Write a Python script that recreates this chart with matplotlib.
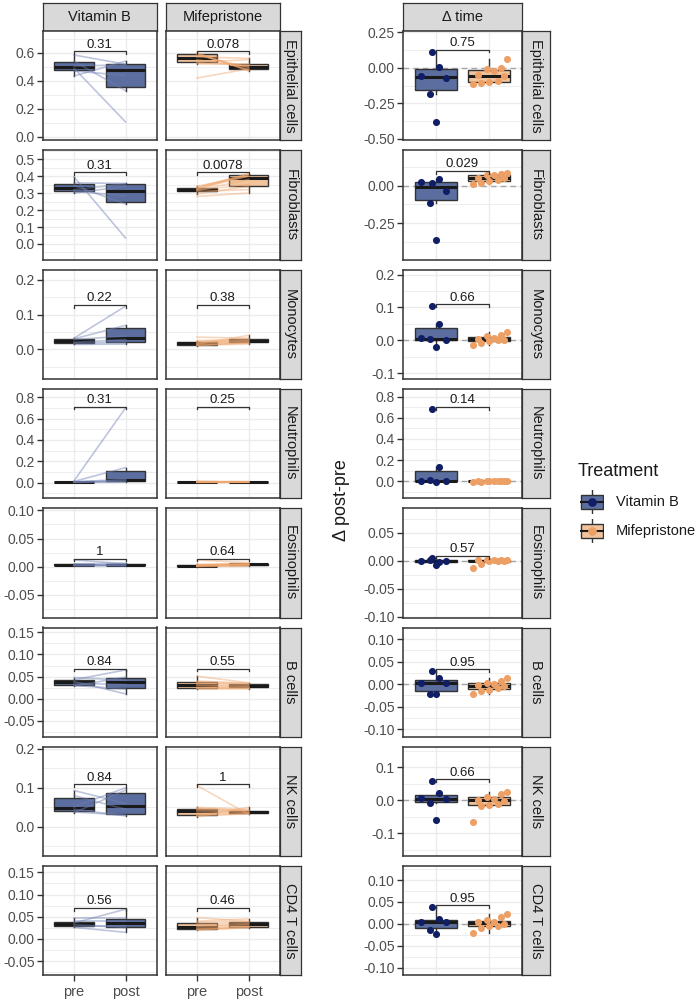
import matplotlib
matplotlib.use("Agg")
import matplotlib.pyplot as plt
import numpy as np
from matplotlib.patches import Rectangle
from matplotlib.ticker import FixedLocator

plt.rcParams['font.family'] = ['Liberation Sans', 'DejaVu Sans']

# ---------------- data ----------------
CELL_TYPES = ["Epithelial cells", "Fibroblasts", "Monocytes", "Neutrophils",
              "Eosinophils", "B cells", "NK cells", "CD4 T cells"]
TREATMENTS = ["Vitamin B", "Mifepristone"]
TIMES = ["pre", "post"]

VITB_PRE = [
    [0.434, 0.47, 0.49, 0.505, 0.54, 0.584],
    [0.30, 0.31, 0.32, 0.345, 0.36, 0.396],
    [0.014, 0.018, 0.02, 0.028, 0.03, 0.032],
    [0.002, 0.004, 0.005, 0.007, 0.01, 0.015],
    [0.001, 0.002, 0.003, 0.004, 0.005, 0.012],
    [0.029, 0.030, 0.035, 0.039, 0.043, 0.048],
    [0.036, 0.038, 0.045, 0.051, 0.08, 0.093],
    [0.026, 0.028, 0.032, 0.036, 0.040, 0.048],
]
VITB_POST = [
    [0.54, 0.438, 0.107, 0.514, 0.33, 0.518],
    [0.34, 0.284, 0.355, 0.236, 0.357, 0.035],
    [0.015, 0.02, 0.028, 0.038, 0.069, 0.124],
    [0.005, 0.01, 0.02, 0.03, 0.14, 0.70],
    [0.003, 0.001, 0.004, 0.002, 0.006, 0.005],
    [0.049, 0.022, 0.032, 0.011, 0.065, 0.042],
    [0.094, 0.03, 0.028, 0.10, 0.045, 0.06],
    [0.015, 0.03, 0.026, 0.067, 0.04, 0.048],
]
MIFE_PRE = [
    [0.42, 0.52, 0.53, 0.535, 0.55, 0.57, 0.585, 0.59, 0.595, 0.60],
    [0.28, 0.295, 0.31, 0.315, 0.318, 0.322, 0.325, 0.33, 0.335, 0.34],
    [0.01, 0.012, 0.013, 0.015, 0.016, 0.018, 0.02, 0.022, 0.025, 0.035],
    [0.001, 0.002, 0.003, 0.004, 0.005, 0.005, 0.006, 0.007, 0.008, 0.012],
    [0.0, 0.0005, 0.001, 0.0015, 0.002, 0.002, 0.0025, 0.003, 0.004, 0.012],
    [0.022, 0.024, 0.025, 0.026, 0.030, 0.032, 0.036, 0.038, 0.04, 0.051],
    [0.026, 0.028, 0.03, 0.035, 0.04, 0.043, 0.046, 0.047, 0.05, 0.106],
    [0.02, 0.021, 0.022, 0.024, 0.027, 0.029, 0.034, 0.038, 0.04, 0.048],
]
MIFE_POST = [
    [0.485, 0.52, 0.51, 0.55, 0.50, 0.56, 0.495, 0.48, 0.475, 0.47],
    [0.30, 0.34, 0.32, 0.38, 0.35, 0.41, 0.40, 0.415, 0.41, 0.40],
    [0.02, 0.015, 0.018, 0.04, 0.021, 0.025, 0.023, 0.027, 0.029, 0.032],
    [0.003, 0.004, 0.002, 0.005, 0.006, 0.004, 0.007, 0.005, 0.006, 0.008],
    [0.001, 0.002, 0.003, 0.003, 0.004, 0.004, 0.005, 0.005, 0.006, 0.007],
    [0.022, 0.024, 0.025, 0.027, 0.028, 0.030, 0.032, 0.034, 0.035, 0.036],
    [0.05, 0.033, 0.034, 0.035, 0.037, 0.039, 0.041, 0.042, 0.045, 0.032],
    [0.025, 0.026, 0.027, 0.029, 0.032, 0.034, 0.036, 0.039, 0.045, 0.040],
]
VITB_DELTA = [
    [0.114, 0.007, -0.057, -0.069, -0.184, -0.379],
    [0.015, 0.045, 0.026, -0.037, -0.117, -0.361],
    [0.104, 0.049, 0.006, 0.0, 0.004, -0.019],
    [0.682, 0.13, 0.0, 0.002, 0.008, -0.005],
    [0.005, -0.002, 0.0, -0.001, 0.002, -0.008],
    [0.029, 0.013, 0.002, 0.002, -0.021, -0.022],
    [0.058, 0.021, 0.007, 0.003, -0.008, -0.061],
    [0.038, 0.011, 0.003, 0.003, -0.015, -0.023],
]
MIFE_DELTA = [
    [-0.11, -0.105, -0.10, -0.095, -0.06, -0.05, -0.02, -0.01, 0.0, 0.064],
    [0.01, 0.02, 0.03, 0.04, 0.05, 0.055, 0.07, 0.075, 0.08, 0.085],
    [-0.015, -0.008, -0.003, 0.0, 0.002, 0.004, 0.008, 0.012, 0.015, 0.025],
    [-0.006, -0.004, -0.003, -0.002, -0.001, 0.0, 0.0, 0.001, 0.002, 0.003],
    [-0.012, -0.005, -0.001, 0.0, 0.0, 0.001, 0.001, 0.002, 0.002, 0.002],
    [-0.021, -0.015, -0.012, -0.008, -0.004, -0.002, 0.0, 0.003, 0.006, 0.014],
    [-0.067, -0.016, -0.014, -0.01, -0.003, 0.002, 0.005, 0.01, 0.018, 0.024],
    [-0.021, -0.01, -0.006, -0.005, 0.0, 0.003, 0.005, 0.008, 0.015, 0.023],
]
P_TIME_VITB = ["0.31", "0.31", "0.22", "0.31", "1", "0.84", "0.84", "0.56"]
P_TIME_MIFE = ["0.078", "0.0078", "0.38", "0.25", "0.64", "0.55", "1", "0.46"]
P_DELTA = ["0.75", "0.029", "0.66", "0.14", "0.57", "0.95", "0.66", "0.95"]

# ---------------- axes layout (limits / ticks) ----------------
LEFT_YLIM = [(-0.024, 0.755), (-0.092, 0.552), (-0.085, 0.229), (-0.147, 0.878),
             (-0.0905, 0.104), (-0.086, 0.161), (-0.075, 0.205), (-0.082, 0.164)]
LEFT_TICKS = [([0, 0.2, 0.4, 0.6], "{:.1f}"), ([0, 0.1, 0.2, 0.3, 0.4, 0.5], "{:.1f}"),
              ([0, 0.1, 0.2], "{:.1f}"), ([0, 0.2, 0.4, 0.6, 0.8], "{:.1f}"),
              ([-0.05, 0, 0.05, 0.10], "{:.2f}"), ([-0.05, 0, 0.05, 0.10, 0.15], "{:.2f}"),
              ([0, 0.1, 0.2], "{:.1f}"), ([-0.05, 0, 0.05, 0.10, 0.15], "{:.2f}")]
RIGHT_YLIM = [(-0.51, 0.26), (-0.494, 0.237), (-0.117, 0.215), (-0.161, 0.873),
              (-0.101, 0.094), (-0.117, 0.126), (-0.170, 0.163), (-0.118, 0.132)]
RIGHT_TICKS = [([-0.5, -0.25, 0, 0.25], "{:.2f}"), ([-0.25, 0], "{:.2f}"),
               ([-0.1, 0, 0.1, 0.2], "{:.1f}"), ([0, 0.2, 0.4, 0.6, 0.8], "{:.1f}"),
               ([-0.10, -0.05, 0, 0.05], "{:.2f}"), ([-0.10, -0.05, 0, 0.05, 0.10], "{:.2f}"),
               ([-0.1, 0, 0.1], "{:.1f}"), ([-0.10, -0.05, 0, 0.05, 0.10], "{:.2f}")]

# ---------------- style ----------------
FILL = {"Vitamin B": "#5B6E9F", "Mifepristone": "#F2C49C"}
POINT = {"Vitamin B": "#101E66", "Mifepristone": "#EDA066"}
LINE = {"Vitamin B": "#6F80B3", "Mifepristone": "#F0A870"}
EDGE = "#333333"
GRID = "#EBEBEB"
TICKCOL = "#4D4D4D"
STRIP = "#D9D9D9"
JIT_VITB = [-0.06, 0.06, -0.28, 0.19, -0.10, 0.0]
JIT_MIFE = [-0.30, -0.16, 0.0, 0.16, 0.27, -0.22, 0.08, -0.05, 0.22, 0.33]

W, H = 698, 1000
fig = plt.figure(figsize=(W / 100, H / 100), dpi=100)


def add_ax(x0, y0, w, h):
    return fig.add_axes([x0 / W, 1 - (y0 + h) / H, w / W, h / H])


def fmt(v, f):
    s = f.format(v)
    if s.startswith("-0") and float(s) == 0:
        s = s[1:]
    return s


def style_axes(ax, ylim, ticks, show_ylabels):
    ax.set_ylim(*ylim)
    vals, f = ticks
    step = vals[1] - vals[0]
    minors = [v + step / 2 for v in vals] + [vals[0] - step / 2]
    minors = [m for m in minors if ylim[0] <= m <= ylim[1]]
    ax.yaxis.set_major_locator(FixedLocator(vals))
    ax.yaxis.set_minor_locator(FixedLocator(minors))
    if show_ylabels:
        ax.set_yticklabels([fmt(v, f) for v in vals])
    else:
        ax.set_yticklabels([])
    ax.tick_params(axis='y', which='major', length=4 if show_ylabels else 0, width=1.0,
                   color=EDGE, labelsize=10, labelcolor=TICKCOL, pad=2)
    ax.tick_params(which='minor', length=0)
    ax.grid(which='major', color=GRID, linewidth=1.0, zorder=0)
    ax.grid(which='minor', axis='y', color=GRID, linewidth=0.6, zorder=0)
    ax.set_axisbelow(True)
    for s in ax.spines.values():
        s.set_color(EDGE)
        s.set_linewidth(1.1)
        s.set_zorder(10)


def boxplot(ax, data, pos, face, width):
    ax.boxplot([data], positions=[pos], widths=width, patch_artist=True,
               showfliers=False, showcaps=False, manage_ticks=False,
               medianprops=dict(color="#1A1A1A", linewidth=2.2, solid_capstyle='butt'),
               boxprops=dict(facecolor=face, edgecolor=EDGE, linewidth=1.0),
               whiskerprops=dict(color=EDGE, linewidth=1.0), zorder=2)


def bracket(ax, y, label, ylim):
    rng = ylim[1] - ylim[0]
    tip = 0.025 * rng
    ax.plot([1, 1, 2, 2], [y - tip, y, y, y - tip], color=EDGE, linewidth=0.9, zorder=5)
    ax.text(1.5, y + 0.004 * rng, label, ha='center', va='bottom', fontsize=9.5,
            color="#1A1A1A", zorder=6)


def strip_right(x0, y0, w, h, text):
    sax = add_ax(x0, y0, w, h)
    sax.set_xticks([]); sax.set_yticks([])
    sax.set_facecolor(STRIP)
    for s in sax.spines.values():
        s.set_color(EDGE); s.set_linewidth(0.9)
    sax.text(0.5, 0.5, text, rotation=-90, ha='center', va='center', fontsize=10.5,
             color="#1A1A1A", transform=sax.transAxes)


def strip_top(x0, y0, w, h, text):
    sax = add_ax(x0, y0, w, h)
    sax.set_xticks([]); sax.set_yticks([])
    sax.set_facecolor(STRIP)
    for s in sax.spines.values():
        s.set_color(EDGE); s.set_linewidth(0.9)
    sax.text(0.5, 0.5, text, ha='center', va='center', fontsize=10.5,
             color="#1A1A1A", transform=sax.transAxes)


# layout (pixels)
ROW_TOP0, ROW_STEP, ROW_H = 31, 119.3, 109.3
LX = {"Vitamin B": 43, "Mifepristone": 166}
LW = 113.5
RX, RW = 403, 119

strip_top(LX["Vitamin B"], 3, LW, 27.5, "Vitamin B")
strip_top(LX["Mifepristone"], 3, LW, 27.5, "Mifepristone")
strip_top(RX, 3, RW, 27.5, "\u0394 time")

for r, ct in enumerate(CELL_TYPES):
    top = ROW_TOP0 + r * ROW_STEP
    ylim = LEFT_YLIM[r]
    row_max = max(max(VITB_PRE[r]), max(VITB_POST[r]), max(MIFE_PRE[r]), max(MIFE_POST[r]))
    by = row_max + 0.012 * (ylim[1] - ylim[0])
    for t, (pre, post, pv) in zip(TREATMENTS, [(VITB_PRE[r], VITB_POST[r], P_TIME_VITB[r]),
                                               (MIFE_PRE[r], MIFE_POST[r], P_TIME_MIFE[r])]):
        ax = add_ax(LX[t], top, LW, ROW_H)
        ax.set_xlim(0.4, 2.6)
        style_axes(ax, ylim, LEFT_TICKS[r], t == "Vitamin B")
        boxplot(ax, pre, 1, FILL[t], 0.77)
        boxplot(ax, post, 2, FILL[t], 0.77)
        for a, b in zip(pre, post):
            ax.plot([1, 2], [a, b], color=LINE[t], alpha=0.45, linewidth=1.2, zorder=3)
        ax.set_xticks([1, 2])
        if r == len(CELL_TYPES) - 1:
            ax.set_xticklabels(TIMES)
            ax.tick_params(axis='x', length=4, width=1.0, color=EDGE, labelsize=10.5,
                           labelcolor=TICKCOL, pad=3)
        else:
            ax.set_xticklabels([])
            ax.tick_params(axis='x', length=0)
        bracket(ax, by, pv, ylim)
    strip_right(279.5, top, 21.5, ROW_H, ct)

    # delta panel
    ylim = RIGHT_YLIM[r]
    ax = add_ax(RX, top, RW, ROW_H)
    ax.set_xlim(0.39, 2.61)
    style_axes(ax, ylim, RIGHT_TICKS[r], True)
    ax.set_xticks([1, 2])
    ax.set_xticklabels([])
    ax.tick_params(axis='x', length=0)
    ax.axhline(0, color="#A6A6A6", linestyle=(0, (4, 3)), linewidth=1.0, zorder=1)
    boxplot(ax, VITB_DELTA[r], 1, FILL["Vitamin B"], 0.79)
    boxplot(ax, MIFE_DELTA[r], 2, FILL["Mifepristone"], 0.78)
    ax.scatter(1 + np.array(JIT_VITB[:len(VITB_DELTA[r])]), VITB_DELTA[r], s=26,
               color=POINT["Vitamin B"], zorder=4, linewidths=0)
    ax.scatter(2 + np.array(JIT_MIFE[:len(MIFE_DELTA[r])]), MIFE_DELTA[r], s=26,
               color=POINT["Mifepristone"], zorder=4, linewidths=0)
    dmax = max(max(VITB_DELTA[r]), max(MIFE_DELTA[r]))
    bracket(ax, dmax + 0.02 * (ylim[1] - ylim[0]), P_DELTA[r], ylim)
    strip_right(522, top, 28, ROW_H, ct)

# y label
fig.text(342 / W, 1 - 500 / H, "\u0394 post-pre", rotation=90, ha='center', va='center',
         fontsize=13, color="#1A1A1A")

# legend
fig.text(578 / W, 1 - 471 / H, "Treatment", ha='left', va='center', fontsize=13,
         color="#1A1A1A")
for i, t in enumerate(TREATMENTS):
    cy = 502 + i * 29
    kax = add_ax(580, cy - 12, 24, 24)
    kax.set_xlim(0, 1); kax.set_ylim(0, 1); kax.axis('off')
    kax.plot([0.5, 0.5], [0.0, 1.0], color=EDGE, linewidth=1.0)
    kax.add_patch(Rectangle((0.04, 0.22), 0.92, 0.56, facecolor=FILL[t], edgecolor=EDGE,
                            linewidth=1.0, zorder=2))
    kax.plot([0.04, 0.96], [0.5, 0.5], color="#1A1A1A", linewidth=1.5, zorder=3)
    kax.scatter([0.5], [0.5], s=40, color=POINT[t], zorder=4, linewidths=0)
    fig.text(616 / W, 1 - cy / H, t, ha='left', va='center', fontsize=10.5, color="#1A1A1A")

fig.savefig("out.png", dpi=100)
